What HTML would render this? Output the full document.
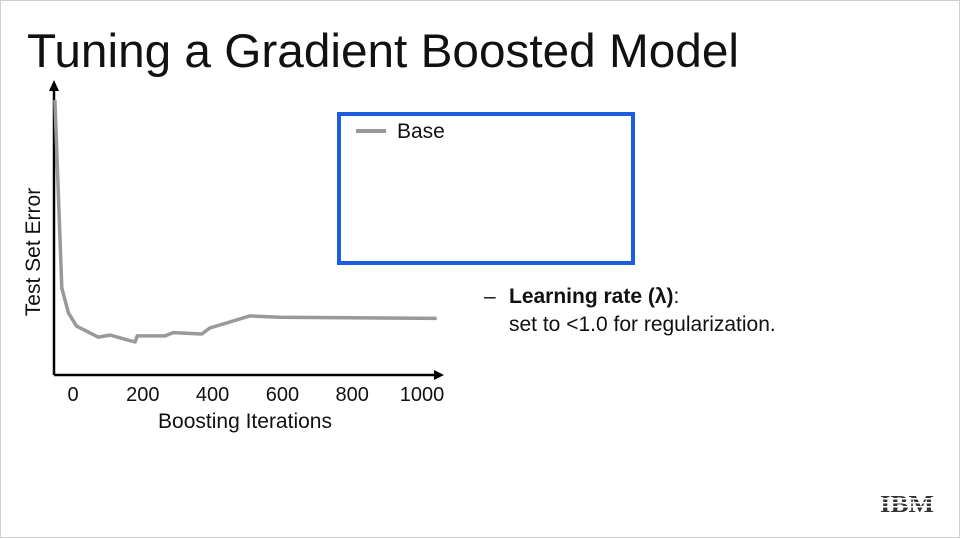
<!DOCTYPE html>
<html><head><meta charset="utf-8"><style>
html,body{margin:0;padding:0;background:#fff;}
body{width:961px;height:539px;overflow:hidden;position:relative;font-family:"Liberation Sans",Arial,sans-serif;}
</style></head><body>
<svg width="961" height="539" xmlns="http://www.w3.org/2000/svg" style="position:absolute;left:0;top:0">
<rect x="0.5" y="0.5" width="959" height="537" fill="#fff" stroke="#d0d0d0"/>
<text x="27" y="67" font-size="47" fill="#111" textLength="712" lengthAdjust="spacingAndGlyphs">Tuning a Gradient Boosted Model</text>
<g id="chart"></g>
<rect x="339" y="114" width="294" height="149" fill="none" stroke="#1a5fe0" stroke-width="4"/>
<line x1="356" y1="131" x2="386" y2="131" stroke="#999" stroke-width="4"/>
<text x="397" y="138" font-size="21" fill="#111">Base</text>
<text x="484" y="303" font-size="21" fill="#111">–</text>
<text x="509" y="303" font-size="21" fill="#111"><tspan font-weight="bold">Learning rate (λ)</tspan>:</text>
<text x="509" y="331" font-size="21" fill="#111">set to &lt;1.0 for regularization.</text>
<g>
<text x="880" y="512" font-size="24" font-weight="bold" font-family="Liberation Serif,serif" fill="#333" textLength="54" lengthAdjust="spacingAndGlyphs">IBM</text>
<g fill="#fff"><rect x="876" y="494" width="62" height="1.5"/><rect x="876" y="498" width="62" height="1.5"/><rect x="876" y="502" width="62" height="1.5"/><rect x="876" y="506" width="62" height="1.5"/></g>
</g>
</svg>
<script>
const iterations=[-52,-32,-13,10,72,106,178,184,264,287,369,392,507,593,1042];
const errors=[100,31.6,22.5,17.8,13.8,14.5,12,14.2,14.2,15.4,14.9,17.1,21.5,21,20.6];
const xTicks=[0,200,400,600,800,1000];
const NS="http://www.w3.org/2000/svg";
const g=document.getElementById('chart');
const x=v=>73+v*0.349;
const y=v=>375-v*2.75;
function el(t,a){const e=document.createElementNS(NS,t);for(const k in a)e.setAttribute(k,a[k]);g.appendChild(e);return e;}
let ax=el('path',{d:'M54,375 L436,375',stroke:'#000','stroke-width':2.5,fill:'none'});


let xa=el('path',{d:'M444,375 L434,370 L434,380 Z',fill:'#000'});


let ay=el('path',{d:'M54,375 L54,88',stroke:'#000','stroke-width':2.5,fill:'none'});


let ya=el('path',{d:'M54,80 L49,91 L59,91 Z',fill:'#000'});


xTicks.forEach(t=>{const e=el('text',{x:x(t),y:401,'font-size':20,'text-anchor':'middle',fill:'#111'});e.textContent=t;

});
let xt=el('text',{x:245,y:428,'font-size':21,'text-anchor':'middle',fill:'#111'});xt.textContent='Boosting Iterations';


let yt=el('text',{x:0,y:0,'font-size':21,'text-anchor':'middle',fill:'#111',transform:'translate(40,252) rotate(-90)'});yt.textContent='Test Set Error';


let d=iterations.map((v,i)=>(i?'L':'M')+x(v).toFixed(1)+','+y(errors[i]).toFixed(1)).join(' ');
let ln=el('path',{d:d,stroke:'#999','stroke-width':3.5,fill:'none','stroke-linejoin':'round'});


</script>
</body></html>
